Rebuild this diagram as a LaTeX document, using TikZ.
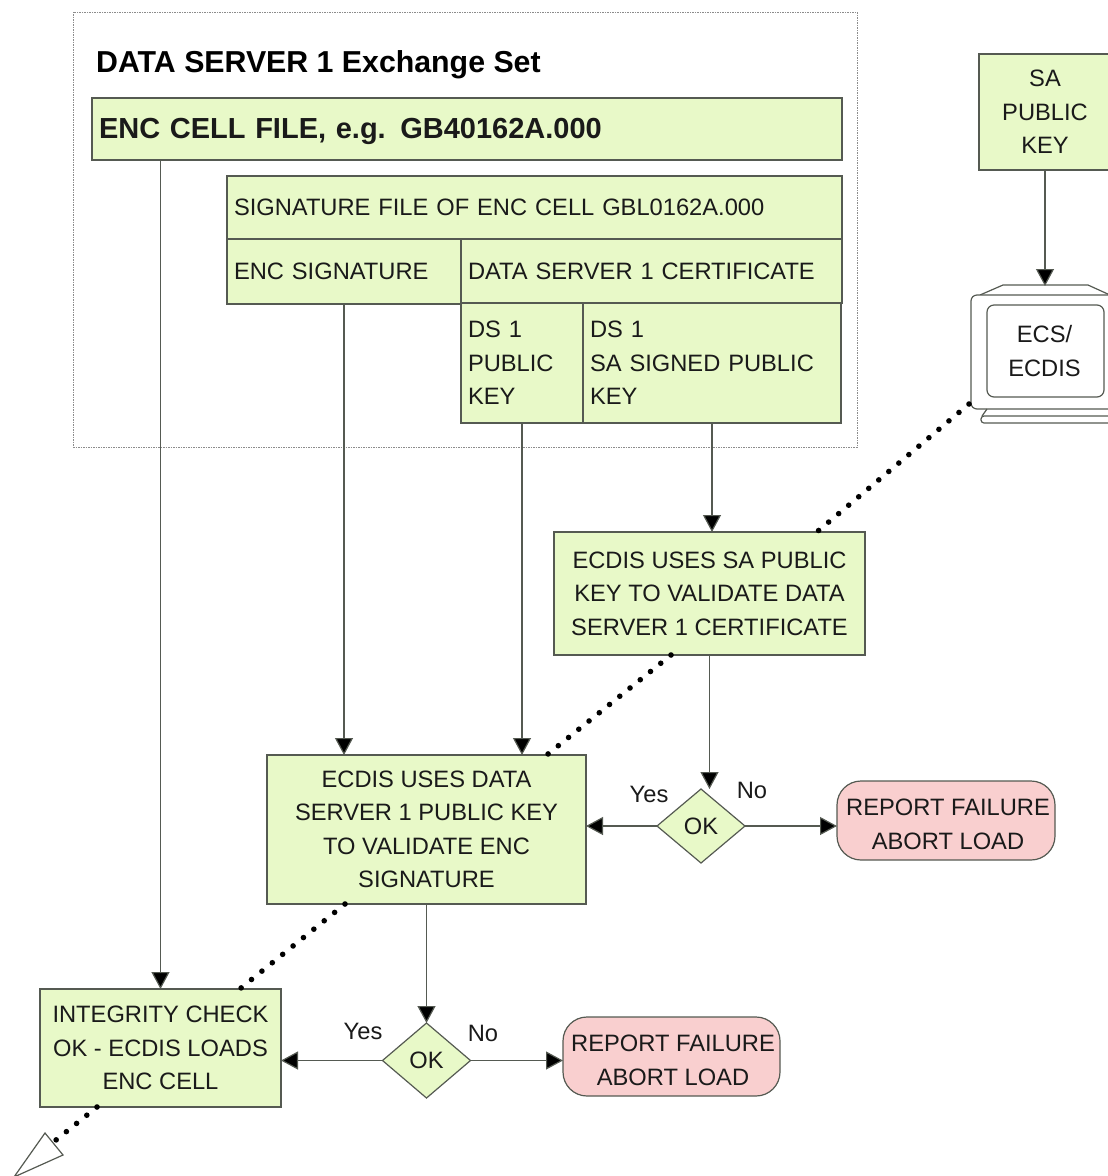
\documentclass[tikz,border=0pt]{standalone}
\usepackage{fontspec}
\setmainfont{Liberation Sans}
\usetikzlibrary{arrows.meta,shapes.geometric}
\definecolor{boxgreen}{HTML}{E8F9C8}
\definecolor{boxpink}{HTML}{F9CFCF}
\definecolor{edge}{HTML}{555A52}
\definecolor{ink}{HTML}{1A1A1A}
\tikzset{
  base/.style={draw=edge,line width=1.2pt,text=ink,font=\fontsize{23.7}{33.5}\selectfont,inner sep=0pt,outer sep=0pt},
  gbox/.style={base,fill=boxgreen,align=center},
  lbox/.style={base,fill=boxgreen,align=left,inner xsep=7pt},
  fail/.style={base,fill=boxpink,rounded corners=24pt,align=center},
  okd/.style={base,fill=boxgreen,diamond,aspect=1.19},
  lab/.style={text=ink,font=\fontsize{23.7}{30}\selectfont,inner sep=0pt},
  arr/.style={draw=edge,line width=1.2pt,-{Triangle[length=17pt,width=18pt,fill=black]}},
  dots/.style={draw=black,line width=5.6pt,line cap=round},
  mon/.style={draw=edge,line width=1.2pt,fill=white}
}
\begin{document}
\begin{tikzpicture}[x=1pt,y=-1pt]
\useasboundingbox (0,0) rectangle (1108,1176);
\clip (0,0) rectangle (1108,1176);
% exchange set frame
\node[draw=black!45,line width=0.9pt,dash pattern=on 1.5pt off 1pt,minimum width=784pt,minimum height=435pt,inner sep=0pt] (frame) at (465,229.5) {};
\node[anchor=west,inner sep=0pt,text=black,font=\fontsize{30.3}{34}\selectfont\bfseries] (title) at (96,65) {DATA SERVER 1 Exchange Set};
% boxes
\node[lbox,minimum width=750pt,minimum height=62pt,text width=736pt,font=\fontsize{29}{34}\selectfont\bfseries] (cell) at (467,129) {\rule{0pt}{25pt}ENC CELL FILE, e.g. GB40162A.000};
\node[lbox,minimum width=615pt,minimum height=63pt,text width=601pt] (sigfile) at (534.5,207.5) {SIGNATURE FILE OF ENC CELL GBL0162A.000};
\node[lbox,minimum width=234pt,minimum height=65pt,text width=220pt] (encsig) at (344,271.5) {ENC SIGNATURE};
\node[lbox,minimum width=381pt,minimum height=64pt,text width=367pt] (cert) at (651.5,271) {DATA SERVER 1 CERTIFICATE};
\node[lbox,minimum width=122pt,minimum height=120pt,text width=108pt] (dspub) at (522,363) {DS 1\\PUBLIC\\KEY};
\node[lbox,minimum width=258pt,minimum height=120pt,text width=244pt] (sasig) at (712,363) {DS 1\\SA SIGNED PUBLIC\\KEY};
\node[gbox,minimum width=132pt,minimum height=116pt] (sa) at (1045,112) {SA\\PUBLIC\\KEY};
\node[gbox,minimum width=311pt,minimum height=123pt] (val1) at (709.5,593.5) {ECDIS USES SA PUBLIC\\KEY TO VALIDATE DATA\\SERVER 1 CERTIFICATE};
\node[gbox,minimum width=319pt,minimum height=149pt] (val2) at (426.5,829.5) {ECDIS USES DATA\\SERVER 1 PUBLIC KEY\\TO VALIDATE ENC\\SIGNATURE};
\node[gbox,minimum width=241pt,minimum height=118pt] (integ) at (160.5,1048) {INTEGRITY CHECK\\OK - ECDIS LOADS\\ENC CELL};
\node[okd,minimum width=88pt,minimum height=74pt] (ok1) at (701,826) {OK};
\node[okd,minimum width=88pt,minimum height=75pt] (ok2) at (426.5,1060.5) {OK};
\node[fail,minimum width=218pt,minimum height=79pt] (fail1) at (946,820.5) {\hspace*{4pt}\rule{0pt}{24pt}REPORT FAILURE\\\hspace*{4pt}ABORT LOAD};
\node[fail,minimum width=217pt,minimum height=79pt] (fail2) at (671.5,1056.5) {\hspace*{3pt}\rule{0pt}{24pt}REPORT FAILURE\\\hspace*{3pt}ABORT LOAD};
\node[lab] (yes1) at (649,794) {Yes};
\node[lab] (no1) at (752,790) {No};
\node[lab] (yes2) at (363,1031) {Yes};
\node[lab] (no2) at (483,1033) {No};
% monitor
\draw[mon] (980,295) -- (1003,285) -- (1088,285) -- (1110,295);
\draw[mon,rounded corners=6pt] (971,295) rectangle (1125,409);
\draw[mon] (987,409) -- (982,416);
\draw[mon,rounded corners=3pt] (981,416) rectangle (1135,423);
\node[base,fill=white,rounded corners=7pt,minimum width=117pt,minimum height=92pt,align=center] (ecs) at (1045.5,351) {\hspace*{-2pt}ECS/\\\hspace*{-2pt}ECDIS};
\coordinate (montop) at (1045,286);
% free ends of the dotted links
\coordinate (d1a) at (969,404);
\coordinate (d1b) at (818,531);
\coordinate (d2a) at (671,655);
\coordinate (d2b) at (548,754);
\coordinate (d3a) at (345,904);
\coordinate (d3b) at (241,988);
\coordinate (d4a) at (97,1107);
\coordinate (d4b) at (56,1140);
% connectors
\draw[arr] (integ.north |- cell.south) -- (integ.north);
\draw[arr] (encsig.south) -- (encsig.south |- val2.north);
\draw[arr] (dspub.south) -- (dspub.south |- val2.north);
\draw[arr] (sasig.south) -- (sasig.south |- val1.north);
\draw[arr] (sa.south) -- (sa.south |- montop);
\draw[arr] (val1.south) -- (val1.south |- ok1.north);
\draw[arr] (ok1.west) -- (ok1.west -| val2.east);
\draw[arr] (ok1.east) -- (ok1.east -| fail1.west);
\draw[arr] (val2.south) -- (ok2.north);
\draw[arr] (ok2.west) -- (ok2.west -| integ.east);
\draw[arr] (ok2.east) -- (ok2.east -| fail2.west);
\draw[dots,dash pattern=on 0pt off 13.1pt] (d1a) -- (d1b);
\draw[dots,dash pattern=on 0pt off 13.15pt] (d2a) -- (d2b);
\draw[dots,dash pattern=on 0pt off 13.35pt] (d3a) -- (d3b);
\draw[dots,dash pattern=on 0pt off 13.1pt] (d4a) -- (d4b);
\draw[edge,line width=1.2pt,fill=white] (45,1133) -- (63,1155) -- (14,1177) -- cycle;
\end{tikzpicture}
\end{document}
